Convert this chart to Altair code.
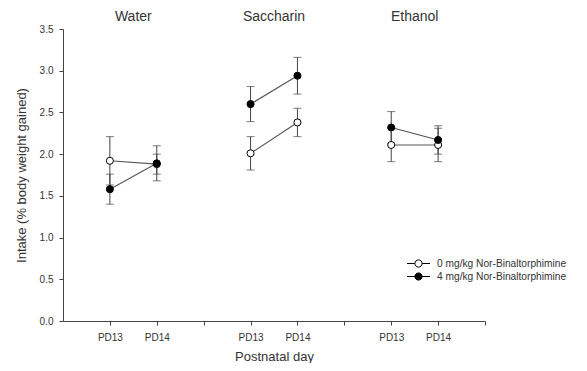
import altair as alt
import pandas as pd

# ---- data ----
fluids = ["Water", "Saccharin", "Ethanol"]
days = ["PD13", "PD14"]
doses = ["0 mg/kg Nor-Binaltorphimine", "4 mg/kg Nor-Binaltorphimine"]

# order: Water PD13, Water PD14, Saccharin PD13, Saccharin PD14, Ethanol PD13, Ethanol PD14
mean_0mg = [1.92, 1.88, 2.01, 2.38, 2.11, 2.11]
err_0mg = [0.29, 0.12, 0.20, 0.17, 0.20, 0.20]
mean_4mg = [1.58, 1.89, 2.60, 2.94, 2.32, 2.17]
err_4mg = [0.18, 0.21, 0.21, 0.22, 0.19, 0.17]

y_ticks = [0.0, 0.5, 1.0, 1.5, 2.0, 2.5, 3.0, 3.5]

rows = []
for gi, f in enumerate(fluids):
    for di, d in enumerate(days):
        k = gi * 2 + di
        pos = gi * 3 + di + 1
        for dose, m, e in ((doses[0], mean_0mg, err_0mg), (doses[1], mean_4mg, err_4mg)):
            rows.append(dict(fluid=f, day=d, pos=pos, dose=dose,
                             mean=m[k], lo=m[k] - e[k], hi=m[k] + e[k]))
df = pd.DataFrame(rows)
titles = pd.DataFrame({"fluid": fluids, "pos": [gi * 3 + 1.5 for gi in range(len(fluids))]})

FONT = "Liberation Sans"
GRAY = "#444444"

xscale = alt.Scale(domain=[0, 9], nice=False, zero=False)
yscale = alt.Scale(domain=[0, 3.5], nice=False, zero=True)

xaxis = alt.Axis(
    values=list(range(1, 10)),
    labelExpr="datum.value % 3 == 0 ? '' : (datum.value % 3 == 1 ? 'PD13' : 'PD14')",
    title="Postnatal day", grid=False, tickSize=4, labelPadding=7,
    titlePadding=8, labelFontSize=10, titleFontSize=13,
)
yaxis = alt.Axis(
    values=y_ticks, format=".1f", title="Intake (% body weight gained)",
    grid=False, tickSize=4, labelPadding=6, titlePadding=11,
    labelFontSize=10, titleFontSize=13,
)

base = alt.Chart(df)
x = alt.X("pos:Q", scale=xscale, axis=xaxis)

rules = base.mark_rule(color=GRAY, strokeWidth=1).encode(
    x=x, y=alt.Y("lo:Q", scale=yscale, axis=yaxis), y2="hi:Q"
)
cap_lo = base.mark_tick(color=GRAY, size=8, thickness=1, orient="horizontal").encode(
    x=x, y=alt.Y("lo:Q", scale=yscale)
)
cap_hi = base.mark_tick(color=GRAY, size=8, thickness=1, orient="horizontal").encode(
    x=x, y=alt.Y("hi:Q", scale=yscale)
)
lines = base.mark_line(color="#555555", strokeWidth=1.1).encode(
    x=x, y=alt.Y("mean:Q", scale=yscale), detail=["fluid:N", "dose:N"]
)

legend_symbol = ("M-1.92,0H-0.6M0.6,0H1.92"
                 "M-0.6,0A0.6,0.6,0,1,1,0.6,0A0.6,0.6,0,1,1,-0.6,0Z")

points = base.mark_point(filled=True, size=50, stroke="black", strokeWidth=1, opacity=1).encode(
    x=x, y=alt.Y("mean:Q", scale=yscale),
    fill=alt.Fill("dose:N", scale=alt.Scale(domain=doses, range=["white", "black"]),
                  legend=alt.Legend(
                      title=None, orient="none", legendX=349, legendY=228,
                      symbolType=legend_symbol, symbolSize=144,
                      symbolStrokeColor="black", symbolStrokeWidth=1,
                      labelOffset=12, labelFontSize=10.2, labelLimit=400,
                      rowPadding=0, padding=0,
                  )),
)

heads = alt.Chart(titles).mark_text(fontSize=14, baseline="middle", align="center",
                                    font=FONT, color="#333333").encode(
    x=alt.X("pos:Q", scale=xscale), y=alt.value(-12.5), text="fluid:N"
)

chart = alt.layer(rules, cap_lo, cap_hi, lines, points, heads).properties(
    width=422, height=292,
    autosize=alt.AutoSizeParams(type="none"),
    padding={"left": 55, "top": 21, "right": 94, "bottom": 42},
).configure_view(stroke=None).configure_axis(
    domainColor=GRAY, tickColor=GRAY, labelColor="#333333", titleColor="#333333",
    labelFont=FONT, titleFont=FONT, titleFontWeight="normal",
).configure_legend(labelFont=FONT, labelColor="#333333")

chart.save("out.html", embed_options={"renderer": "svg", "actions": False})
